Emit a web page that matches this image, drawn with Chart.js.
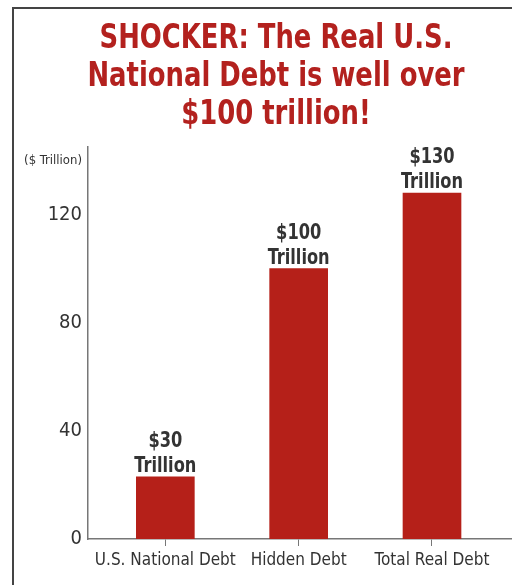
<!DOCTYPE html>
<html>
<head>
<meta charset="utf-8">
<script src="https://cdn.jsdelivr.net/npm/chart.js@4.4.1/dist/chart.umd.min.js"></script>
<style>
    html, body { margin: 0; padding: 0; background: #fff; }
    body { width: 512px; height: 585px; overflow: hidden; position: relative; }
    .marco { position: absolute; left: 12px; top: 7px; width: 600px; height: 700px; border-left: 2px solid #444; border-top: 2px solid #444; }
    #grafica { position: absolute; left: 0; top: 0; }
</style>
</head>
<body>
<div class="marco"></div>
<canvas id="grafica" width="512" height="585"></canvas>
<script>
const categorias = ['U.S. National Debt', 'Hidden Debt', 'Total Real Debt'];
const valores = [23, 100, 128];
const etiquetasValor = ['$30', '$100', '$130'];
const ticksY = [0, 40, 80, 120];
const unidadY = '($ Trillion)';
const unidadPos = 140;
const titulo = ['SHOCKER: The Real U.S.', 'National Debt is well over', '$100 trillion!'];

const FUENTE = '"DejaVu Sans Condensed", "DejaVu Sans", sans-serif';
const ROJO = '#b52019';
const GRIS = '#333';

// texto estrechado en horizontal (la fuente original es condensada)
function textoEstrecho(ctx, texto, x, y, escala) {
    ctx.save();
    ctx.translate(x, y);
    ctx.scale(escala, 1);
    ctx.fillText(texto, 0, 0);
    ctx.restore();
}

// titulo rojo de tres lineas
const tituloGrande = {
    id: 'tituloGrande',
    afterDraw(chart) {
        const ctx = chart.ctx;
        ctx.save();
        ctx.fillStyle = '#b3211e';
        ctx.font = 'bold 34px ' + FUENTE;
        ctx.textAlign = 'center';
        ctx.textBaseline = 'alphabetic';
        const escala = 353 / ctx.measureText(titulo[0]).width;
        const lineas = [48, 86, 124];
        titulo.forEach((t, i) => textoEstrecho(ctx, t, 276, lineas[i], escala));
        ctx.restore();
    }
};

// etiquetas "$xx Trillion" encima de cada barra
const etiquetasBarras = {
    id: 'etiquetasBarras',
    afterDatasetsDraw(chart) {
        const ctx = chart.ctx;
        const meta = chart.getDatasetMeta(0);
        ctx.save();
        ctx.fillStyle = GRIS;
        ctx.font = 'bold 21px ' + FUENTE;
        ctx.textAlign = 'center';
        ctx.textBaseline = 'alphabetic';
        const escala = 62 / ctx.measureText('Trillion').width;
        meta.data.forEach((barra, i) => {
            textoEstrecho(ctx, 'Trillion', barra.x, barra.y - 5, escala);
            textoEstrecho(ctx, etiquetasValor[i], barra.x, barra.y - 30, escala);
        });
        ctx.restore();
    }
};

new Chart(document.getElementById('grafica'), {
    type: 'bar',
    data: {
        datasets: [{
            data: valores.map((v, i) => ({ x: i, y: v })),
            backgroundColor: ROJO,
            borderWidth: 0,
            barThickness: 58
        }]
    },
    options: {
        responsive: false,
        animation: false,
        layout: { padding: { left: 0, right: 0, top: 147, bottom: 0 } },
        plugins: {
            legend: { display: false },
            tooltip: { enabled: false },
            title: { display: false }
        },
        scales: {
            x: {
                type: 'linear',
                min: -0.58,
                max: 2.6,
                offset: false,
                afterBuildTicks: s => { s.ticks = categorias.map((c, i) => ({ value: i })); },
                afterFit: s => { s.height = 46; },
                grid: { display: true, drawOnChartArea: false, drawTicks: true, tickLength: 7, color: '#777', offset: false },
                border: { display: true, color: '#777', width: 1.5 },
                ticks: {
                    autoSkip: false,
                    maxRotation: 0,
                    padding: 4,
                    color: GRIS,
                    font: { family: FUENTE, size: 17 },
                    callback: v => categorias[v]
                }
            },
            y: {
                min: 0,
                max: 145,
                afterBuildTicks: s => { s.ticks = ticksY.concat([unidadPos]).map(v => ({ value: v })); },
                afterFit: s => { s.width = 88; },
                grid: { display: false, drawTicks: false },
                border: { display: true, color: '#777', width: 1.5 },
                ticks: {
                    padding: 6,
                    color: GRIS,
                    font: ctx => ctx.tick && ctx.tick.value === unidadPos
                        ? { family: FUENTE, size: 13 }
                        : { family: FUENTE, size: 20 },
                    callback: v => v === unidadPos ? unidadY : v
                }
            }
        }
    },
    plugins: [etiquetasBarras, tituloGrande]
});
</script>
</body>
</html>
